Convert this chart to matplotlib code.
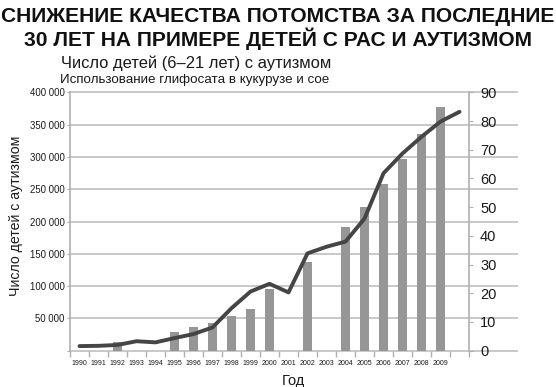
import numpy as np
import matplotlib
matplotlib.use('Agg')
import matplotlib.pyplot as plt
from matplotlib import font_manager
from matplotlib.ticker import FuncFormatter

plt.rcParams['font.family'] = ['Liberation Sans', 'DejaVu Sans']

# data
years = list(range(1990, 2011))
label_years = list(range(1990, 2010))
bar_years = [1992, 1995, 1996, 1997, 1998, 1999, 2000, 2002,
             2004, 2005, 2006, 2007, 2008, 2009]
autism_counts = [14000, 29400, 36200, 42400, 54000, 65000, 96000, 137000,
                 192000, 222000, 258000, 296000, 335000, 377000]
glyphosate = [1.6, 1.7, 2.0, 3.3, 2.9, 4.4, 5.8, 8.1, 14.8, 20.6, 23.3,
              20.3, 33.9, 36.2, 38.0, 46.0, 61.8, 68.7, 74.5, 79.8, 83.2]
left_ticks = list(range(0, 400001, 50000))
right_ticks = list(range(0, 91, 10))

title1 = "СНИЖЕНИЕ КАЧЕСТВА ПОТОМСТВА ЗА ПОСЛЕДНИЕ"
title2 = "30 ЛЕТ НА ПРИМЕРЕ ДЕТЕЙ С РАС И АУТИЗМОМ"
sub1 = "Число детей (6–21 лет) с аутизмом"
sub2 = "Использование глифосата в кукурузе и сое"

BAR = '#969696'
LINE = '#454545'
GRID = '#c4c4c4'
AXC = '#b0b0b0'
TXT = '#1a1a1a'

names = {f.name for f in font_manager.fontManager.ttflist}
if 'Liberation Sans Narrow' in names:
    tfam, tsize = ['Liberation Sans Narrow', 'DejaVu Sans'], 18.2
else:
    tfam, tsize = ['Liberation Sans', 'DejaVu Sans'], 15.1

W, H = 556, 387
fig = plt.figure(figsize=(W / 100, H / 100), dpi=100)
ax = fig.add_axes([70 / W, 1 - 350.7 / H, 399 / W, 258.4 / H])

xb = [y - years[0] for y in bar_years]
ax.bar(xb, autism_counts, width=0.51, color=BAR, zorder=2)
ax.set_xlim(-0.5, len(years) - 0.5)
ax.set_ylim(0, 400000)

for v in left_ticks:
    ax.axhline(v, xmin=0, xmax=1.12, color=GRID, lw=1.3, zorder=1, clip_on=False)

for s in ['top', 'right', 'bottom']:
    ax.spines[s].set_visible(False)
ax.spines['left'].set_color(AXC)
ax.spines['left'].set_linewidth(1.2)

ax.set_yticks(left_ticks)
ax.yaxis.set_major_formatter(FuncFormatter(lambda v, p: '' if v == 0 else f"{int(v) // 1000} 000"))
ax.tick_params(axis='y', length=2, color=AXC, labelsize=6.9, labelcolor=TXT, pad=2)

ax.set_xticks([y - years[0] for y in label_years])
ax.set_xticklabels([str(y) for y in label_years])
ax.set_xticks(np.arange(-0.5, len(years), 1), minor=True)
ax.tick_params(axis='x', which='major', length=0, labelsize=5.0, labelcolor=TXT, pad=7)
ax.tick_params(axis='x', which='minor', length=4, color=AXC, width=1)

ax.set_ylabel('Число детей с аутизмом', fontsize=10.2, color=TXT)
ax.yaxis.set_label_coords(-0.118, 0.521)
ax.set_xlabel('Год', fontsize=10.5, color=TXT)
ax.xaxis.set_label_coords(0.559, -0.092)

ax2 = ax.twinx()
ax2.plot(range(len(years)), glyphosate, color=LINE, lw=2.8,
         solid_joinstyle='round', solid_capstyle='round', zorder=3)
ax2.set_ylim(0, 90)
ax2.set_yticks(right_ticks)
for s in ['top', 'left', 'bottom']:
    ax2.spines[s].set_visible(False)
ax2.spines['right'].set_color(AXC)
ax2.spines['right'].set_linewidth(1.2)
ax2.tick_params(axis='y', length=3, color=AXC, labelsize=10.5, labelcolor=TXT, pad=5)

fig.text(278 / W, 1 - 21.7 / H, title1, family=tfam, fontsize=tsize,
         fontweight='bold', ha='center', va='baseline', color='#111111')
fig.text(278 / W, 1 - 46.2 / H, title2, family=tfam, fontsize=tsize,
         fontweight='bold', ha='center', va='baseline', color='#111111')
fig.text(61 / W, 1 - 68 / H, sub1, fontsize=11.9, ha='left', va='baseline', color=TXT)
fig.text(60 / W, 1 - 82.5 / H, sub2, fontsize=9.6, ha='left', va='baseline', color=TXT)

fig.savefig('out.png', dpi=100)
